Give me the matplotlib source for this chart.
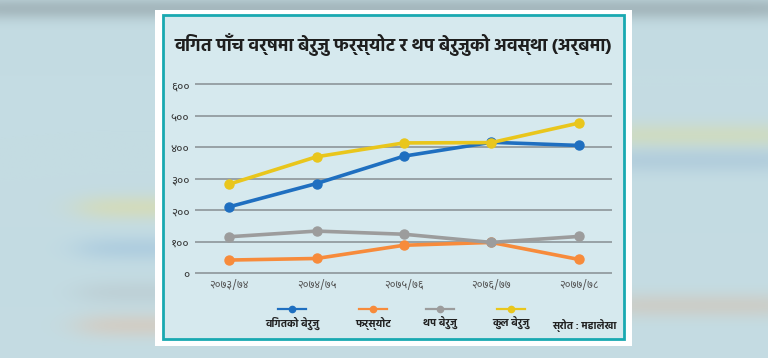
import numpy as np
import matplotlib
matplotlib.use("Agg")
import matplotlib.pyplot as plt
from matplotlib import font_manager
from matplotlib.patches import Rectangle
from matplotlib.lines import Line2D

# data (अर्ब रुपैयाँ)
years = ["२०७३/७४", "२०७४/७५", "२०७५/७६", "२०७६/७७", "२०७७/७८"]
bigat = [211, 285, 372, 416, 406]
farsyot = [42, 47, 89, 98, 44]
thap = [116, 134, 124, 98, 117]
kul = [283, 370, 414, 415, 477]
series_names = ["विगतको बेरुजु", "फर्स्योट", "थप बेरुजु", "कुल बेरुजु"]
yticks = [0, 100, 200, 300, 400, 500, 600]
ytick_labels = ["०", "१००", "२००", "३००", "४००", "५००", "६००"]
title = "विगत पाँच वर्षमा बेरुजु फर्स्योट र थप बेरुजुको अवस्था (अर्बमा)"
source = "स्रोत : महालेखा"

colors = ["#1f6fc0", "#f78b3b", "#9c9c9c", "#e9c61c"]

# choose Devanagari families that are installed
fonts = font_manager.fontManager.ttflist
installed = {f.name for f in fonts}
bold_ok = {f.name for f in fonts if f.weight in (700, "bold")}
deva = "DejaVu Sans"
for name in ["Noto Sans Devanagari", "Hind", "Mukta", "Yantramanav", "Khula", "Amiko"]:
    if name in installed:
        deva = name
        break
deva_bold = deva
for name in ["Hind", "Mukta", "Yantramanav", "Khula", "Amiko", "Arya"]:
    if name in bold_ok:
        deva_bold = name
        break
plt.rcParams["font.family"] = [deva, "DejaVu Sans"]

W, H = 768, 358
fig = plt.figure(figsize=(W / 100, H / 100), dpi=100)

# blurred photo-like background
yy, xx = np.mgrid[0:H, 0:W]
bg = np.ones((H, W, 3)) * np.array([196, 220, 227]) / 255.0


def band(cy, x0, x1, col, sy=7.0, strength=0.55):
    wy = np.exp(-((yy - cy) ** 2) / (2 * sy ** 2))
    wx = 1 / (1 + np.exp(-(xx - x0) / 12.0)) * 1 / (1 + np.exp((xx - x1) / 12.0))
    w = (wy * wx * strength)[..., None]
    return w, np.array(col) / 255.0


for cy, x0, x1, col in [(207, 80, 200, [222, 220, 160]), (248, 80, 200, [160, 195, 220]),
                        (292, 80, 200, [185, 200, 205]), (325, 80, 200, [220, 195, 175]),
                        (135, 600, 800, [215, 220, 170]), (160, 600, 800, [165, 195, 215]),
                        (305, 600, 800, [210, 195, 180]), (8, -50, 800, [140, 155, 160])]:
    w, c = band(cy, x0, x1, col, sy=9.0 if cy > 20 else 8.0)
    bg = bg * (1 - w) + c * w

bgax = fig.add_axes([0, 0, 1, 1], zorder=-10)
bgax.imshow(bg, aspect="auto", extent=[0, 1, 0, 1], interpolation="bilinear")
bgax.set_xlim(0, 1)
bgax.set_ylim(0, 1)
bgax.axis("off")

# card + teal frame
fig.patches.append(Rectangle((155 / W, 1 - 346 / H), 477 / W, 336 / H, transform=fig.transFigure,
                             facecolor="white", edgecolor="none", zorder=-5))
fig.patches.append(Rectangle((163 / W, 1 - 339 / H), 461 / W, 324 / H, transform=fig.transFigure,
                             facecolor="#d6e9ee", edgecolor="#19a9b1", linewidth=2.0, zorder=-4))

fig.text(174 / W, 1 - 45 / H, title, fontsize=13, fontweight="bold", color="#1e1e1e",
         ha="left", va="center", family=[deva_bold, "DejaVu Sans"])

ax = fig.add_axes([195 / W, 1 - 275.8 / H, 417 / W, 194.6 / H])
ax.set_facecolor("none")
x = np.arange(len(years))
for vals, c in zip([bigat, farsyot, thap, kul], colors):
    ax.plot(x, vals, color=c, linewidth=2.6, marker="o", markersize=6.5, solid_capstyle="round", zorder=3)

ax.set_xlim(-0.39, 4.38)
ax.set_ylim(-8, 610)
ax.set_yticks(yticks)
ax.set_yticklabels(ytick_labels, fontsize=8.5, color="#333333")
ax.set_xticks(x)
ax.set_xticklabels(years, fontsize=8, color="#555555")
ax.tick_params(length=0)
ax.tick_params(axis="y", pad=4)
ax.tick_params(axis="x", pad=3)
ax.grid(axis="y", color="#8d9599", linewidth=1.2)
ax.set_axisbelow(True)
for s in ax.spines.values():
    s.set_visible(False)

# legend: marker line above label
leg_x = [292, 373, 440, 511]
for cx, name, c in zip(leg_x, series_names, colors):
    fig.add_artist(Line2D([(cx - 14) / W, (cx + 14) / W], [1 - 309 / H] * 2, color=c, linewidth=1.6,
                          marker="", transform=fig.transFigure))
    fig.add_artist(Line2D([cx / W], [1 - 309 / H], color=c, marker="o", markersize=4.5,
                          transform=fig.transFigure))
    fig.text(cx / W, 1 - 323 / H, name, fontsize=7.5, color="#222222", ha="center", va="center",
             fontweight="bold", family=[deva_bold, "DejaVu Sans"])

fig.text(617 / W, 1 - 325 / H, source, fontsize=7.5, color="#222222", ha="right", va="center",
         style="italic", fontweight="bold", family=[deva_bold, "DejaVu Sans"])

fig.savefig("out.png", dpi=100)
